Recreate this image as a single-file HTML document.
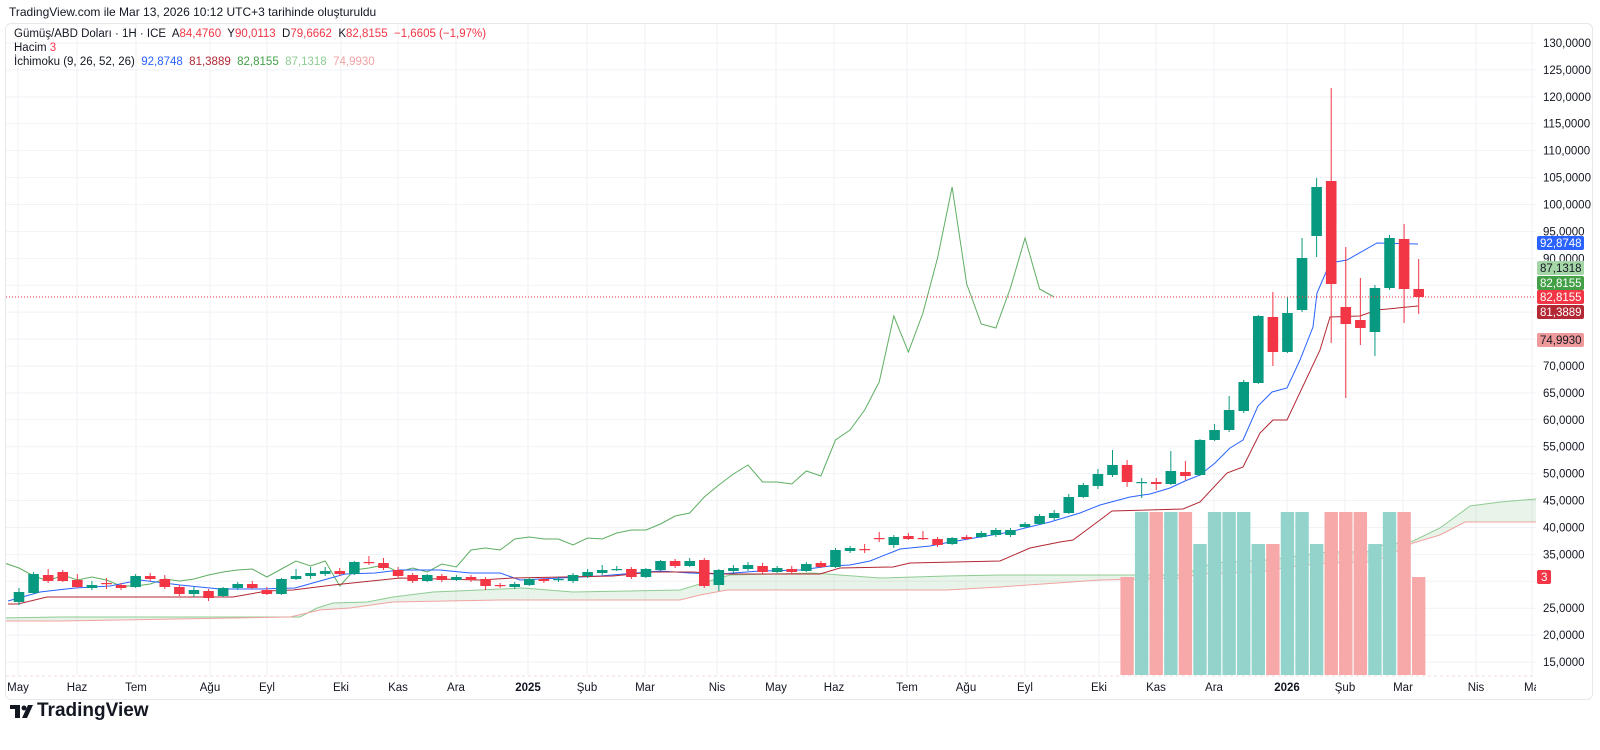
<!DOCTYPE html>
<html><head><meta charset="utf-8"><style>
html,body{margin:0;padding:0;background:#fff;width:1600px;height:750px;overflow:hidden;font-family:"Liberation Sans",sans-serif;}
#frame{position:absolute;left:5px;top:23px;width:1586px;height:675px;border:1px solid #e6e8ee;border-radius:6px;}
.t{position:absolute;white-space:nowrap;}
</style></head><body>
<div class="t" style="left:9px;top:5px;font-size:12px;color:#131722;">TradingView.com ile Mar 13, 2026 10:12 UTC+3 tarihinde oluşturuldu</div>
<div id="frame"></div>
<svg id="s" width="1600" height="750" style="position:absolute;left:0;top:0" xmlns="http://www.w3.org/2000/svg"></svg>
<div class="t" style="left:14px;top:28px;font-size:11.5px;color:#131722;">Gümüş/ABD Doları · 1H · ICE&nbsp; A<span style="color:#f23645">84,4760</span>&nbsp; Y<span style="color:#f23645">90,0113</span>&nbsp; D<span style="color:#f23645">79,6662</span>&nbsp; K<span style="color:#f23645">82,8155&nbsp; −1,6605 (−1,97%)</span></div>
<div class="t" style="left:14px;top:42px;font-size:11.5px;color:#131722;">Hacim <span style="color:#f23645">3</span></div>
<div class="t" style="left:14px;top:56px;font-size:11.5px;color:#131722;">İchimoku (9, 26, 52, 26)&nbsp; <span style="color:#2962ff">92,8748</span>&nbsp; <span style="color:#b22833">81,3889</span>&nbsp; <span style="color:#43a047">82,8155</span>&nbsp; <span style="color:#8fcc93">87,1318</span>&nbsp; <span style="color:#f0a3a0">74,9930</span></div>
<svg width="30" height="20" style="position:absolute;left:10px;top:702px"><rect x="0" y="3" width="10" height="4" fill="#131722"/><rect x="5" y="3" width="5" height="13" fill="#131722"/><circle cx="14" cy="6" r="2.5" fill="#131722"/><polygon points="18,3 23,3 17,16 12,16" fill="#131722"/></svg>
<div class="t" style="left:37px;top:700px;font-size:19px;font-weight:bold;color:#131722;">TradingView</div>
<script>
const s=document.getElementById('s');let h='';
const Y=p=>43+(130-p)*5.383;
h+='<defs><clipPath id="c"><rect x="6" y="24" width="1530" height="652"/></clipPath></defs>';
for(let p=15;p<=130;p+=5){const y=Y(p);h+=`<line x1="6" x2="1536" y1="${y}" y2="${y}" stroke="#f0f2f6"/>`;
if(p!=30)h+=`<text x="1543" y="${y+4}" font-size="11.5" fill="#131722" font-family="Liberation Sans">${p},0000</text>`;}
const mon=[[18,'May'],[77,'Haz'],[136,'Tem'],[210,'Ağu'],[267,'Eyl'],[341,'Eki'],[398,'Kas'],[456,'Ara'],[528,'2025',1],[587,'Şub'],[645,'Mar'],[717,'Nis'],[776,'May'],[834,'Haz'],[907,'Tem'],[966,'Ağu'],[1025,'Eyl'],[1099,'Eki'],[1156,'Kas'],[1214,'Ara'],[1287,'2026',1],[1345,'Şub'],[1403,'Mar'],[1476,'Nis'],[1532,'Ma']];
mon.forEach(m=>{h+=`<line x1="${m[0]}" x2="${m[0]}" y1="24" y2="676" stroke="#f0f2f6"/>`;
h+=`<text x="${m[0]}" y="691" font-size="11.5" text-anchor="middle" fill="#131722" ${m[2]?'font-weight="bold"':''} font-family="Liberation Sans">${m[1]}</text>`;});
h+='<rect x="1536" y="676" width="54" height="20" fill="#fff"/>';
h+='<line x1="6" x2="1536" y1="676" y2="676" stroke="#f3dede" stroke-dasharray="3,3"/>';
h+='<g clip-path="url(#c)">';
const P=a=>a.map(p=>p.join(',')).join(' ');
const A=[[0,618],[60,617],[300,617],[317,608],[333,603],[367,602],[393,597],[433,592],[480,590],[523,588],[573,592],[680,590],[713,580],[730,575],[813,573],[880,578],[947,576],[1000,575],[1183,575],[1213,563],[1267,560],[1327,552],[1367,552],[1383,545],[1413,541],[1440,528],[1470,506],[1500,502],[1536,499]];
const B=[[0,621],[60,621],[290,617],[320,610],[350,608],[393,602],[500,600],[680,600],[700,595],[727,590],[947,590],[1000,587],[1100,580],[1183,578],[1200,574],[1260,572],[1287,567],[1327,563],[1367,562],[1383,558],[1413,543],[1440,535],[1465,522],[1536,522]];
h+=`<polygon points="${P(A)} ${P(B.slice().reverse())}" fill="rgba(67,160,71,0.12)"/>`;
h+=`<polyline points="${P(A)}" fill="none" stroke="#8fcc93" stroke-width="1"/>`;
h+=`<polyline points="${P(B)}" fill="none" stroke="#f0a3a0" stroke-width="1"/>`;
const V='rs gt rt gt rt gm gt gt gt gm rm gt gt gm rt rt rt gm gt rt rs'.split(' ');
const X=i=>19+i*14.58;
V.forEach((v,k)=>{const x=X(76+k);const top=v[1]=='t'?512:v[1]=='m'?544:577;
h+=`<rect x="${x-6.7}" y="${top}" width="13.4" height="${675-top}" fill="${v[0]=='g'?'#92d3cc':'#f7a8a8'}"/>`;});
const C=[
['g',592,602,588,605],['g',574,593,572,594],['r',575,581,569,583],['r',572,581,570,582],['r',580,587,574,588],['g',585,588,581,590],['r',583,584,578,589],['r',585,588,583,590],['g',576,587,574,588],['r',576,579,573,581],
['r',579,587,575,589],['r',587,594,585,596],['g',590,594,587,597],['r',591,598,589,601],['g',588,596,587,597],['g',584,588,582,590],['r',584,588,581,589],['r',590,594,587,595],['g',579,594,578,595],['g',576,579,569,580],
['g',573,576,567,579],['g',571,574,567,576],['r',571,574,568,576],['g',562,574,561,575],['r',562,563,556,565],['r',563,568,558,570],['r',570,576,567,578],['r',575,581,573,583],['g',575,581,574,582],['r',576,580,574,582],
['g',577,580,575,581],['r',577,580,575,582],['r',579,586,577,590],['r',585,586,583,588],['g',584,587,582,589],['g',579,585,578,586],['r',579,581,577,583],['g',579,580,577,582],['g',575,581,573,583],['g',572,576,569,578],
['g',570,573,565,575],['g',569,570,566,571],['r',569,577,567,579],['g',569,577,568,578],['g',561,570,560,571],['r',561,566,559,568],['g',561,566,558,567],['r',560,586,558,588],['g',570,585,569,591],['g',568,571,565,573],
['g',565,569,562,571],['r',566,572,563,574],['g',568,572,566,573],['r',569,572,566,574],['g',564,571,562,572],['r',563,567,561,568],['g',550,567,548,568],['g',548,551,546,553],['r',549,550,544,553],['r',538,539,532,542],
['g',537,545,535,548],['r',536,539,533,540],['r',538,539,531,540],['r',539,545,537,547],['g',538,544,537,545],['r',537,539,535,540],['g',533,537,531,538],['g',530,535,528,537],['g',530,535,528,537],['g',524,527,522,528],
['g',516,524,514,525],['g',513,518,510,520],['g',497,513,494,514],['g',485,497,483,498],['g',474,486,469,489],['g',465,475,450,477],['r',465,482,460,487],['g',482,483,478,498],['r',482,484,478,490],['g',471,484,451,485],
['r',472,476,461,480],['g',440,475,439,476],['g',430,440,424,441],['g',410,430,396,432],['g',382,411,380,413],['g',316,383,315,384],['r',317,352,292,366],['g',313,352,297,353],['g',258,310,238,312],['g',187,236,178,257],
['r',181,284,88,343],['r',307,324,247,398],['r',320,328,278,345],['g',288,332,285,356],['g',238,288,235,290],['r',239,289,224,323],['r',289,297,259,314]];
const close=c=>c[0]=='g'?c[1]:c[2];
let ch=[];for(let i=-1;i+25<C.length;i++)ch.push([X(i),close(C[i+25])]);
h+=`<polyline points="${P(ch)}" fill="none" stroke="#5fae62" stroke-width="1"/>`;
const T=[[8,601],[40,592],[75,588],[110,586],[140,580],[180,585],[220,589],[260,589],[295,588],[320,581],[345,574],[375,573],[400,570],[440,570],[470,573],[500,573],[520,580],[560,578],[600,576],[660,571],[690,573],[720,574],[760,571],[800,570],[830,566],[850,565],[870,561],[900,549],[930,546],[945,543],[980,537],[1010,532],[1025,528],[1050,522],[1080,513],[1100,505],[1130,497],[1150,494],[1170,488],[1185,481],[1200,475],[1215,463],[1230,448],[1243,440],[1258,406],[1272,392],[1287,388],[1300,360],[1313,327],[1317,293],[1330,263],[1347,260],[1377,243],[1418,244]];
const K=[[8,604],[18,604],[47,597],[233,597],[267,591],[293,590],[333,585],[400,578],[480,580],[513,578],[613,576],[653,572],[693,572],[720,574],[820,574],[840,568],[893,567],[910,563],[1000,561],[1030,548],[1060,542],[1073,540],[1100,520],[1112,511],[1183,509],[1200,502],[1227,473],[1243,467],[1260,433],[1273,420],[1287,420],[1320,350],[1330,317],[1360,316],[1377,310],[1418,306]];
h+=`<polyline points="${P(T)}" fill="none" stroke="#2962ff" stroke-width="1"/>`;
h+=`<polyline points="${P(K)}" fill="none" stroke="#b22833" stroke-width="1"/>`;
C.forEach((c,i)=>{const x=X(i);const col=c[0]=='g'?'#089981':'#f23645';
h+=`<line x1="${x}" x2="${x}" y1="${c[3]}" y2="${c[4]}" stroke="${col}" stroke-width="1"/>`;
h+=`<rect x="${x-5.3}" y="${c[1]}" width="10.6" height="${Math.max(1.2,c[2]-c[1])}" fill="${col}"/>`;});
h+='<line x1="6" x2="1536" y1="297" y2="297" stroke="#f23645" stroke-dasharray="1,2"/>';
h+='</g>';
const tag=(y,txt,bg,fg)=>{h+=`<rect x="1537" y="${y-7}" width="47" height="14" rx="2" fill="${bg}"/><text x="1540" y="${y+4}" font-size="11.5" fill="${fg}" font-family="Liberation Sans">${txt}</text>`;};
tag(243,'92,8748','#2962ff','#fff');
tag(268,'87,1318','#a5d6a7','#131722');
tag(283,'82,8155','#43a047','#fff');
tag(297,'82,8155','#f23645','#fff');
tag(312,'81,3889','#b22833','#fff');
tag(340,'74,9930','#ef9a9a','#131722');
h+=`<rect x="1537" y="570" width="14" height="14" rx="2" fill="#f23645"/><text x="1541" y="581" font-size="11.5" fill="#fff" font-family="Liberation Sans">3</text>`;
s.innerHTML=h;
</script>
</body></html>
